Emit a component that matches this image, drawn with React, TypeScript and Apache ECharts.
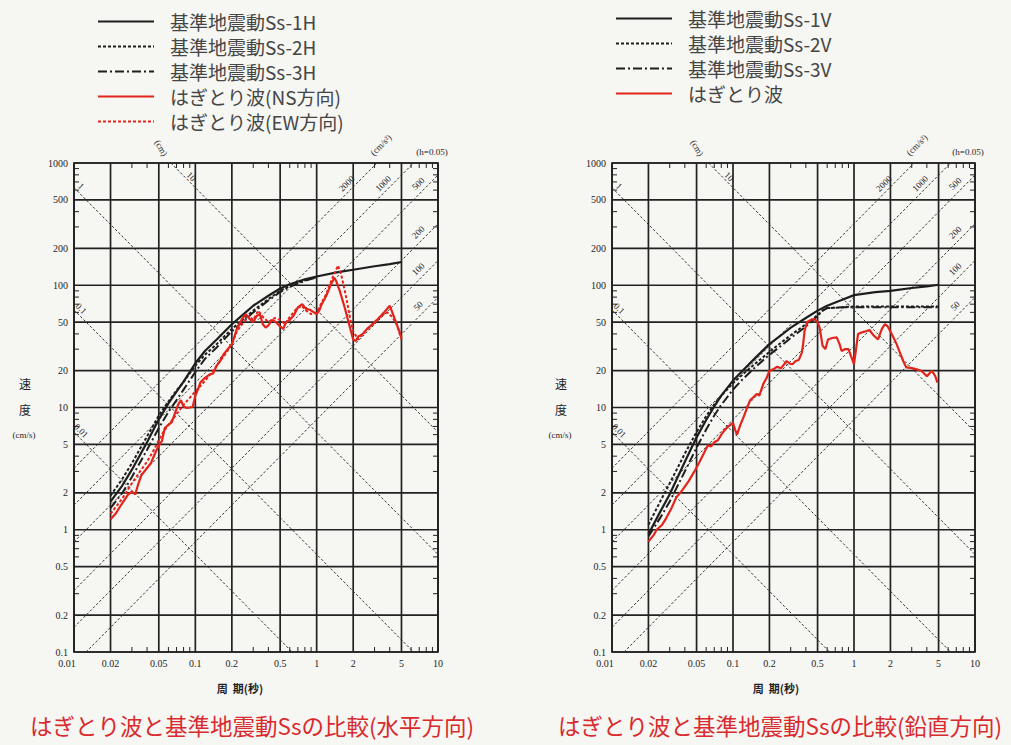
import React, { useEffect, useRef } from "react";
import * as echarts from "echarts";

// Axis extents (period in s, pseudo velocity in cm/s)
const T_MIN = 0.01;
const T_MAX = 10;
const V_MIN = 0.1;
const V_MAX = 1000;

const periodTicks = [0.01, 0.02, 0.05, 0.1, 0.2, 0.5, 1, 2, 5, 10];
const periodTickLabels = ["0.01", "0.02", "0.05", "0.1", "0.2", "0.5", "1", "2", "5", "10"];
const velocityTicks = [0.1, 0.2, 0.5, 1, 2, 5, 10, 20, 50, 100, 200, 500, 1000];
const velocityTickLabels = ["0.1", "0.2", "0.5", "1", "2", "5", "10", "20", "50", "100", "200", "500", "1000"];

// Tripartite guide lines: constant displacement (cm) and constant acceleration (cm/s²)
const dispLines = [0.01, 0.1, 1, 10];
const dispLabels = ["0.01", "0.1", "1", "10"];
const accLines = [50, 100, 200, 500, 1000, 2000];
const accLabels = ["50", "100", "200", "500", "1000", "2000"];

// Horizontal spectra [period, velocity]
const ss1H = [[0.02, 1.7], [0.025, 2.3], [0.03, 3.1], [0.04, 5.2], [0.05, 8.0], [0.06, 10.8], [0.07, 13.5], [0.08, 16.3], [0.1, 23], [0.12, 29], [0.15, 36], [0.2, 48], [0.25, 58], [0.3, 68], [0.4, 82], [0.5, 94], [0.6, 102], [0.8, 112], [1.0, 118], [1.5, 128], [2, 134], [3, 143], [4, 149], [5, 155]];
const ss2H = [[0.02, 1.9], [0.025, 2.6], [0.03, 3.5], [0.04, 5.8], [0.05, 8.6], [0.06, 11.2], [0.07, 13.8], [0.08, 16.2], [0.1, 22], [0.12, 27], [0.15, 33], [0.2, 44], [0.25, 53], [0.3, 62], [0.4, 77], [0.5, 90], [0.6, 99], [0.8, 110], [1.0, 117]];
const ss3H = [[0.02, 1.5], [0.025, 2.0], [0.03, 2.7], [0.04, 4.5], [0.05, 6.8], [0.06, 9.2], [0.07, 11.5], [0.08, 14], [0.1, 19.5], [0.12, 25], [0.15, 31], [0.2, 42], [0.25, 51], [0.3, 60], [0.4, 75], [0.5, 88], [0.6, 97], [0.8, 109], [1.0, 116]];
const hagitoriNS = [[0.02, 1.22], [0.022, 1.35], [0.024, 1.55], [0.026, 1.75], [0.028, 1.95], [0.03, 2.05], [0.032, 1.95], [0.034, 2.4], [0.036, 2.8], [0.04, 3.2], [0.043, 3.5], [0.047, 4.3], [0.05, 4.9], [0.053, 5.3], [0.056, 6.8], [0.06, 7.2], [0.064, 7.6], [0.068, 9.0], [0.072, 10.5], [0.076, 11.5], [0.08, 10.2], [0.085, 9.9], [0.09, 10.0], [0.095, 10.1], [0.1, 12.5], [0.105, 14], [0.11, 16], [0.12, 17.5], [0.13, 18.5], [0.14, 19], [0.15, 22], [0.16, 24], [0.17, 27], [0.185, 30], [0.2, 33], [0.21, 38], [0.22, 44], [0.24, 52], [0.26, 58], [0.28, 53], [0.3, 50], [0.32, 56], [0.34, 58], [0.36, 48], [0.38, 45], [0.4, 47], [0.43, 52], [0.46, 50], [0.5, 46], [0.53, 44], [0.56, 50], [0.6, 52], [0.65, 57], [0.7, 66], [0.76, 70], [0.82, 64], [0.88, 63], [0.95, 60], [1.0, 58], [1.05, 62], [1.1, 70], [1.2, 82], [1.3, 100], [1.4, 115], [1.45, 108], [1.55, 90], [1.7, 66], [1.85, 48], [2.0, 36], [2.1, 35], [2.2, 38], [2.4, 40], [2.6, 44], [2.9, 48], [3.2, 53], [3.6, 60], [4.0, 68], [4.2, 60], [4.5, 50], [4.8, 42], [5.0, 37]];
const hagitoriEW = [[0.02, 1.35], [0.025, 1.8], [0.03, 2.4], [0.035, 3.0], [0.04, 3.6], [0.045, 4.4], [0.05, 5.4], [0.055, 6.4], [0.06, 7.2], [0.07, 8.8], [0.08, 10.5], [0.09, 12], [0.1, 13.5], [0.12, 16.5], [0.14, 20], [0.16, 24], [0.18, 28], [0.2, 33], [0.22, 42], [0.25, 50], [0.28, 56], [0.3, 52], [0.33, 62], [0.36, 55], [0.4, 50], [0.45, 54], [0.5, 52], [0.55, 48], [0.6, 55], [0.68, 64], [0.75, 68], [0.82, 62], [0.9, 58], [1.0, 60], [1.1, 72], [1.2, 85], [1.35, 115], [1.5, 145], [1.6, 120], [1.75, 80], [1.9, 52], [2.0, 42], [2.2, 36], [2.4, 40], [2.7, 45], [3.0, 50], [3.4, 56], [3.8, 60], [4.2, 55], [4.6, 47], [5.0, 36]];

// Vertical spectra [period, velocity]
const ss1V = [[0.02, 0.92], [0.025, 1.4], [0.03, 1.95], [0.04, 3.6], [0.05, 5.7], [0.06, 7.9], [0.07, 10.2], [0.08, 12.5], [0.1, 16.6], [0.12, 20], [0.15, 25], [0.2, 33], [0.25, 39], [0.3, 45], [0.4, 54], [0.5, 62], [0.6, 68], [0.8, 76], [1, 83], [1.5, 88], [2, 90], [3, 95], [4, 98], [5, 101]];
const ss2V = [[0.02, 1.1], [0.025, 1.7], [0.03, 2.4], [0.04, 4.2], [0.05, 6.3], [0.06, 8.5], [0.07, 10.6], [0.08, 12.5], [0.1, 15.8], [0.12, 18.6], [0.15, 22.5], [0.2, 28.5], [0.25, 34], [0.3, 39], [0.4, 48], [0.5, 57], [0.55, 62], [0.6, 65], [0.8, 66], [1, 67], [2, 67], [3, 67], [5, 67]];
const ss3V = [[0.02, 0.88], [0.025, 1.25], [0.03, 1.7], [0.04, 3.0], [0.05, 4.7], [0.06, 6.6], [0.07, 8.6], [0.08, 10.5], [0.1, 14], [0.12, 17], [0.15, 21], [0.2, 27], [0.25, 32], [0.3, 37], [0.4, 46], [0.5, 56], [0.55, 62], [0.6, 65], [0.8, 66], [1, 66], [2, 66], [3, 66], [5, 66]];
const hagitoriV = [[0.02, 0.8], [0.022, 0.9], [0.0234, 1.0], [0.026, 1.1], [0.028, 1.24], [0.031, 1.5], [0.034, 1.84], [0.038, 2.1], [0.043, 2.5], [0.048, 3.0], [0.053, 3.6], [0.058, 4.3], [0.062, 4.9], [0.066, 4.8], [0.07, 5.2], [0.075, 5.4], [0.08, 6.0], [0.085, 6.5], [0.09, 6.9], [0.1, 7.5], [0.104, 6.6], [0.108, 6.0], [0.115, 7.2], [0.122, 8.3], [0.13, 9.8], [0.138, 11.4], [0.148, 12.2], [0.157, 12.9], [0.165, 12.5], [0.178, 15.6], [0.19, 17.5], [0.2, 20], [0.215, 20.5], [0.23, 21.5], [0.25, 21], [0.278, 24], [0.295, 22.8], [0.31, 22.6], [0.33, 24], [0.35, 24.5], [0.37, 28], [0.38, 33], [0.39, 42], [0.41, 50], [0.44, 52], [0.47, 53], [0.5, 50], [0.52, 45], [0.55, 32], [0.58, 30], [0.61, 36], [0.66, 37], [0.72, 37.5], [0.76, 33], [0.79, 29], [0.84, 30], [0.9, 30], [0.95, 26], [1.0, 22.6], [1.04, 30], [1.08, 40], [1.15, 41], [1.25, 42], [1.34, 43], [1.45, 39], [1.58, 36], [1.7, 44], [1.8, 48], [1.9, 46], [1.97, 43], [2.1, 38], [2.25, 33], [2.4, 28], [2.55, 24], [2.7, 21.3], [3.0, 21], [3.3, 20.5], [3.6, 20], [4.0, 18], [4.2, 19], [4.4, 20], [4.7, 18], [4.9, 16]];

const CJK = '"Noto Sans CJK JP", "Noto Sans", sans-serif';
const SERIF = '"Liberation Serif", "DejaVu Serif", serif';
const INK = "#1e1e1e";
const RED = "#e3241c";
const TWO_PI = Math.PI * 2;

// Draws the tripartite paper: 1-2-5 grid, minor ticks, tick labels and guide lines
function paperRenderer(params: any, api: any) {
  const c = (t: number, v: number) => api.coord([t, v]);
  const children: any[] = [];
  const line = (a: number[], b: number[], style: any) =>
    children.push({ type: "line", shape: { x1: a[0], y1: a[1], x2: b[0], y2: b[1] }, style });
  const text = (x: number, y: number, s: string, font: string, align = "center", rotation = 0) =>
    children.push({
      type: "text",
      x,
      y,
      rotation,
      style: { text: s, x: 0, y: 0, align, verticalAlign: "middle", font, fill: INK },
    });

  const gridStyle = { stroke: "#222", lineWidth: 1.7 };
  periodTicks.forEach((t) => line(c(t, V_MIN), c(t, V_MAX), gridStyle));
  velocityTicks.forEach((v) => line(c(T_MIN, v), c(T_MAX, v), gridStyle));

  // minor ticks on all four sides
  const tickStyle = { stroke: "#222", lineWidth: 1 };
  [0.01, 0.1, 1].forEach((d) =>
    [3, 4, 6, 7, 8, 9].forEach((m) => {
      const b = c(d * m, V_MIN);
      const t = c(d * m, V_MAX);
      line(b, [b[0], b[1] - 5], tickStyle);
      line(t, [t[0], t[1] + 5], tickStyle);
    })
  );
  [0.1, 1, 10, 100].forEach((d) =>
    [3, 4, 6, 7, 8, 9].forEach((m) => {
      const l = c(T_MIN, d * m);
      const r = c(T_MAX, d * m);
      line(l, [l[0] + 5, l[1]], tickStyle);
      line(r, [r[0] - 5, r[1]], tickStyle);
    })
  );

  // tick labels
  periodTicks.forEach((t, i) => {
    const p = c(t, V_MIN);
    text(p[0] - (i === 0 ? 7 : 0), p[1] + 11, periodTickLabels[i], `10px ${SERIF}`);
  });
  velocityTicks.forEach((v, i) => {
    const p = c(T_MIN, v);
    text(p[0] - 6, p[1], velocityTickLabels[i], `10px ${SERIF}`, "right");
  });

  const guideStyle = { stroke: "#333", lineWidth: 1, lineDash: [2.5, 2] };
  const labelFont = `9px ${SERIF}`;

  // constant displacement lines: Sv = 2πD / T
  dispLines.forEach((D, i) => {
    const t0 = Math.max(T_MIN, (TWO_PI * D) / V_MAX);
    const t1 = Math.min(T_MAX, (TWO_PI * D) / V_MIN);
    if (t0 >= t1) return;
    const p0 = c(t0, (TWO_PI * D) / t0);
    const p1 = c(t1, (TWO_PI * D) / t1);
    line(p0, p1, guideStyle);
    const len = Math.hypot(p1[0] - p0[0], p1[1] - p0[1]);
    const u = [(p1[0] - p0[0]) / len, (p1[1] - p0[1]) / len];
    const n = [u[1], -u[0]];
    const onLeft = t0 === T_MIN;
    const k = onLeft ? 4 : 24;
    const m = onLeft ? 6 : 5;
    text(p0[0] + u[0] * k + n[0] * m, p0[1] + u[1] * k + n[1] * m, dispLabels[i], labelFont, "center", -Math.PI / 4);
  });

  // constant acceleration lines: Sv = A·T / 2π
  accLines.forEach((A, i) => {
    const t0 = Math.max(T_MIN, (TWO_PI * V_MIN) / A);
    const t1 = Math.min(T_MAX, (TWO_PI * V_MAX) / A);
    if (t0 >= t1) return;
    const p0 = c(t0, (A * t0) / TWO_PI);
    const p1 = c(t1, (A * t1) / TWO_PI);
    line(p0, p1, guideStyle);
    const len = Math.hypot(p0[0] - p1[0], p0[1] - p1[1]);
    const u = [(p0[0] - p1[0]) / len, (p0[1] - p1[1]) / len];
    const n = [-u[1], u[0]];
    const onTop = t1 < T_MAX;
    const k = onTop ? 36 : 20;
    const m = onTop ? 7 : 8;
    text(p1[0] + u[0] * k + n[0] * m, p1[1] + u[1] * k + n[1] * m, accLabels[i], labelFont, "center", Math.PI / 4);
  });

  return { type: "group", children };
}

const lineSeries = (name: string, data: number[][], idx: number, color: string, type: any, width = 2) => ({
  name,
  type: "line",
  xAxisIndex: idx,
  yAxisIndex: idx,
  data,
  symbol: "none",
  showSymbol: false,
  clip: true,
  z: 5,
  lineStyle: { color, width, type },
  itemStyle: { color },
});

const DOTTED = [3, 2];
const DASH_DOT = [9, 3, 2, 3];

export default function App() {
  const ref = useRef<HTMLDivElement>(null);

  useEffect(() => {
    document.body.style.margin = "0";
    const chart = echarts.init(ref.current!, null, { renderer: "svg" });

    const grids = [
      { left: 74, top: 163, width: 364, height: 489 },
      { left: 612, top: 163, width: 363, height: 489 },
    ];

    const leftNames = ["基準地震動Ss-1H", "基準地震動Ss-2H", "基準地震動Ss-3H", "はぎとり波(NS方向)", "はぎとり波(EW方向)"];
    const rightNames = ["基準地震動Ss-1V", "基準地震動Ss-2V", "基準地震動Ss-3V", "はぎとり波"];

    const legendBase = {
      orient: "vertical",
      padding: 0,
      itemWidth: 56,
      itemHeight: 10,
      itemGap: 6,
      selectedMode: false,
      itemStyle: { color: "transparent", borderColor: "transparent", borderWidth: 0, opacity: 0 },
      textStyle: { fontSize: 19, color: "#454545", fontFamily: CJK, padding: [0, 0, 0, 11] },
    };

    const axisCommon = {
      type: "log",
      logBase: 10,
      axisLine: { show: false },
      axisTick: { show: false },
      axisLabel: { show: false },
      splitLine: { show: false },
      minorTick: { show: false },
      minorSplitLine: { show: false },
    };

    const sideText = (x: number, y: number, text: string, font: string, rotation = 0, fill = INK) => ({
      type: "text",
      x,
      y,
      rotation,
      style: { text, x: 0, y: 0, align: "center", verticalAlign: "middle", font, fill },
    });

    const annotations = (dx: number) => [
      sideText(25 + dx, 383, "速", `12px ${CJK}`),
      sideText(25 + dx, 409, "度", `12px ${CJK}`),
      sideText(24 + dx, 435, "(cm/s)", `9px ${SERIF}`),
      sideText(240 + dx, 688, "周  期(秒)", `bold 11px ${CJK}`),
      sideText(161 + dx, 148, "(cm)", `9px ${SERIF}`, -Math.PI / 3),
      sideText(381 + dx, 145, "(cm/s²)", `9px ${SERIF}`, Math.PI / 4),
      sideText(432 + dx, 152, "(h=0.05)", `9px ${SERIF}`),
    ];

    chart.setOption({
      animation: false,
      backgroundColor: "#f6f6f3",
      grid: grids.map((g) => ({ ...g, show: true, borderColor: "#1a1a1a", borderWidth: 1.7, backgroundColor: "transparent" })),
      xAxis: [0, 1].map((i) => ({ ...axisCommon, gridIndex: i, min: T_MIN, max: T_MAX })),
      yAxis: [0, 1].map((i) => ({ ...axisCommon, gridIndex: i, min: V_MIN, max: V_MAX })),
      legend: [
        { ...legendBase, data: leftNames, left: 97, top: 12 },
        { ...legendBase, data: rightNames, left: 615, top: 9 },
      ],
      graphic: [
        ...annotations(0),
        ...annotations(536),
        {
          type: "text",
          left: 30,
          top: 714,
          style: { text: "はぎとり波と基準地震動Ssの比較(水平方向)", font: `22.5px ${CJK}`, fill: "#d92a2e" },
        },
        {
          type: "text",
          left: 558,
          top: 714,
          style: { text: "はぎとり波と基準地震動Ssの比較(鉛直方向)", font: `22.5px ${CJK}`, fill: "#d92a2e" },
        },
      ],
      series: [
        { type: "custom", xAxisIndex: 0, yAxisIndex: 0, data: [[1, 1]], renderItem: paperRenderer, silent: true, z: 1 },
        { type: "custom", xAxisIndex: 1, yAxisIndex: 1, data: [[1, 1]], renderItem: paperRenderer, silent: true, z: 1 },
        lineSeries(leftNames[0], ss1H, 0, INK, "solid", 2.2),
        lineSeries(leftNames[1], ss2H, 0, INK, DOTTED),
        lineSeries(leftNames[2], ss3H, 0, INK, DASH_DOT),
        lineSeries(leftNames[3], hagitoriNS, 0, RED, "solid", 2.2),
        lineSeries(leftNames[4], hagitoriEW, 0, RED, DOTTED),
        lineSeries(rightNames[0], ss1V, 1, INK, "solid", 2.2),
        lineSeries(rightNames[1], ss2V, 1, INK, DOTTED),
        lineSeries(rightNames[2], ss3V, 1, INK, DASH_DOT),
        lineSeries(rightNames[3], hagitoriV, 1, RED, "solid", 2.2),
      ],
    });

    return () => chart.dispose();
  }, []);

  return <div ref={ref} style={{ width: 1011, height: 745 }} />;
}
